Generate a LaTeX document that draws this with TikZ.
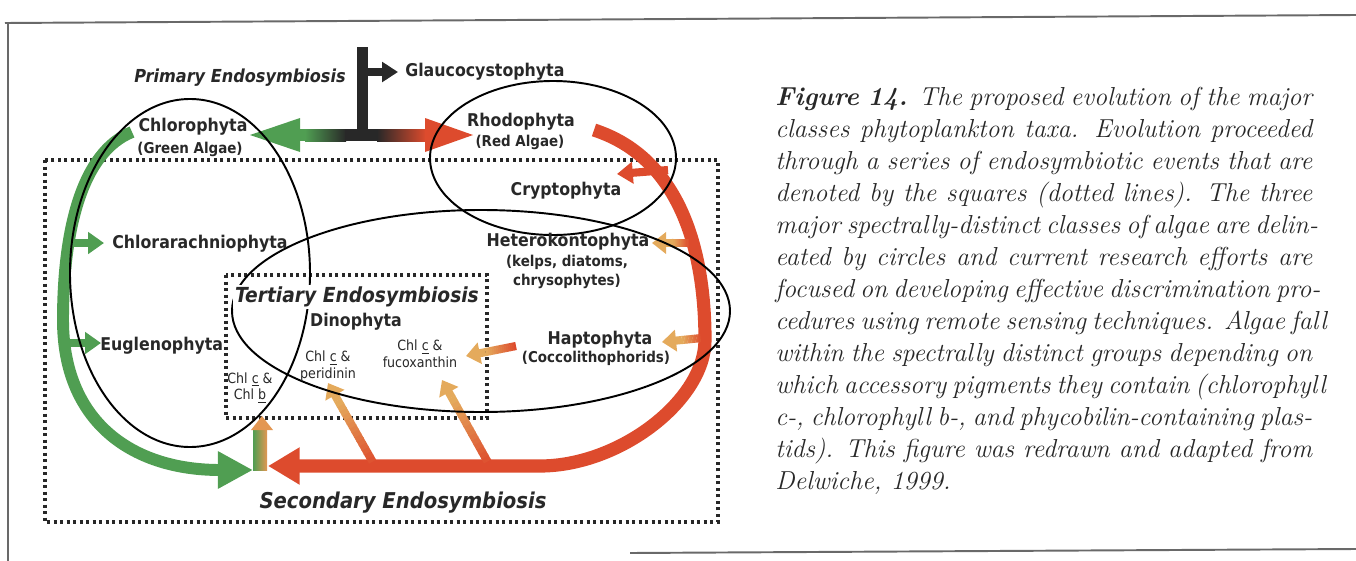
\documentclass[tikz,border=0pt]{standalone}
\usepackage{fontspec}
\newfontfamily\algfont{DejaVu Sans Condensed}
\definecolor{algagreen}{RGB}{80,158,82}
\definecolor{algared}{RGB}{221,75,45}
\definecolor{tanorange}{RGB}{228,170,92}
\definecolor{darkblk}{RGB}{40,40,40}
\definecolor{inkgray}{RGB}{40,40,40}
\definecolor{framegray}{RGB}{105,105,105}
\usetikzlibrary{arrows.meta,positioning,calc}

% shaft that fades from #3 to #4, head in #4
\newcommand{\gradarrow}[4]{%
  \coordinate (gh) at ($(#2)!0.4cm!(#1)$);%
  \foreach \k in {0,...,14}{%
    \pgfmathsetmacro{\ta}{\k*0.066}%
    \pgfmathsetmacro{\tb}{\k*0.066+0.08}%
    \pgfmathtruncatemacro{\mix}{100-\k*100/14}%
    \draw[branch, draw=#3!\mix!#4] ($(#1)!\ta!(gh)$) -- ($(#1)!\tb!(gh)$);%
  }%
  \draw[branch, draw=#4, -{Triangle[length=8pt,width=12pt]}] (gh) -- (#2);%
}

\begin{document}
\begin{tikzpicture}[x=0.02cm,y=-0.02cm,
  taxon/.style={font=\algfont\bfseries\fontsize{10}{12}\selectfont, text=inkgray, inner sep=0pt},
  subtaxon/.style={font=\algfont\bfseries\fontsize{8.5}{11}\selectfont, text=inkgray, inner sep=0pt, align=center},
  pigment/.style={font=\algfont\fontsize{8}{9.5}\selectfont, text=inkgray, inner sep=0pt, align=center},
  event/.style={font=\algfont\bfseries\itshape\fontsize{10.2}{12}\selectfont, text=inkgray, inner sep=0pt},
  dotbox/.style={draw=inkgray, line width=1.8pt, dash pattern=on 1.8pt off 1.9pt},
  circ/.style={draw=black, line width=1.1pt},
  branch/.style={line width=4.6pt},
  capline/.style={font=\itshape\fontsize{14.8}{18}\selectfont, text=inkgray, anchor=base west, inner sep=0pt}]
  \useasboundingbox (0,0) rectangle (1356,561);

  % Frame
  \draw[framegray, line width=1.1pt] (5,23) -- (1356,15);
  \draw[framegray, line width=1.1pt] (8,23) -- (8,561);
  \draw[framegray, line width=1.1pt] (630,553) -- (1356,549);

  % Endosymbiosis boxes
  \draw[dotbox] (45,160) rectangle (718,522);
  \draw[dotbox] (226,275) rectangle (487,418);

  % Primary endosymbiosis
  \fill[darkblk] (357,47) rectangle (368,135);
  \draw[darkblk, line width=4.5pt, -{Triangle[length=9pt,width=11pt]}] (362,72) -- (398,72);
  \fill[algagreen] (250,135) -- (300,118) -- (300,152) -- cycle;
  \fill[algagreen] (299,129) rectangle (306,141);
  \shade[left color=algagreen, right color=darkblk] (305,129) rectangle (346,141);
  \fill[darkblk] (345,129) rectangle (378,141);
  \shade[left color=darkblk, right color=algared] (377,129) rectangle (426,141);
  \fill[algared] (425,118) -- (473,135) -- (425,152) -- cycle;

  % Green line
  \draw[algagreen, line width=6.8pt, -{Triangle[length=20pt,width=20pt]}]
    (132,132) .. controls (82,152) and (63,230) .. (63,320)
    .. controls (63,420) and (130,470) .. (253,470);
  \draw[algagreen, branch, -{Triangle[length=9pt,width=12pt]}] (64,243) -- (104,243);
  \draw[algagreen, branch, -{Triangle[length=9pt,width=12pt]}] (64,343) -- (101,343);

  % Red line
  \draw[algared, line width=7.5pt, -{Triangle[length=18pt,width=20pt]}]
    (594,130) .. controls (680,158) and (705,250) .. (705,340)
    .. controls (705,400) and (620,466) .. (540,466) -- (268,466);
  \draw[algared, branch, -{Triangle[length=9pt,width=12pt]}] (668,170) -- (617,174);

  % Secondary and tertiary branches
  \coordinate (hetA) at (690,243);  \coordinate (hetB) at (652,243);
  \coordinate (hapA) at (702,338);  \coordinate (hapB) at (662,342);
  \coordinate (fucA) at (516,346);  \coordinate (fucB) at (466,356);
  \coordinate (perA) at (375,466);  \coordinate (perB) at (328,383);
  \coordinate (fcbA) at (490,466);  \coordinate (fcbB) at (442,380);
  \gradarrow{hetA}{hetB}{algared}{tanorange}
  \gradarrow{hapA}{hapB}{algared}{tanorange}
  \gradarrow{fucA}{fucB}{algared}{tanorange}
  \gradarrow{perA}{perB}{algared}{tanorange}
  \gradarrow{fcbA}{fcbB}{algared}{tanorange}
  \shade[left color=algagreen, right color=tanorange!80!algared] (253,470) rectangle (267,428);
  \fill[tanorange!80!algared] (251,430) -- (262,416) -- (273,430) -- cycle;

  % Spectral groups
  \draw[circ] (190,273) ellipse [x radius=120, y radius=174];
  \draw[circ] (553,158) ellipse [x radius=123, y radius=77];
  \draw[circ] (481,311) ellipse [x radius=249, y radius=101];

  % Labels
  \node[event] (prim) at (240,78) {Primary Endosymbiosis};
  \node[taxon, anchor=west] (glauco) at (405,72) {Glaucocystophyta};
  \node[taxon] (chloro) at (193,127) {Chlorophyta};
  \node[subtaxon] (greenalg) at (190,149) {(Green Algae)};
  \node[taxon] (rhodo) at (521,122) {Rhodophyta};
  \node[subtaxon] (redalg) at (520,142) {(Red Algae)};
  \node[taxon] (crypto) at (566,191) {Cryptophyta};
  \node[taxon, anchor=west] (chlorar) at (112,244) {Chlorarachniophyta};
  \node[taxon] (hetero) at (568,242) {Heterokontophyta};
  \node[subtaxon] (kelps) at (567,272) {(kelps, diatoms,\\chrysophytes)};
  \node[fill=white, inner sep=1pt, font=\algfont\bfseries\itshape\fontsize{11.8}{14}\selectfont, text=inkgray] (tert) at (357,297) {Tertiary Endosymbiosis};
  \node[taxon] (dino) at (356,322) {Dinophyta};
  \node[taxon, anchor=west] (eugl) at (100,346) {Euglenophyta};
  \node[pigment] (chlb) at (250,388) {Chl \underline{c} \&\\Chl \underline{b}};
  \node[pigment] (peri) at (328,366) {Chl \underline{c} \&\\peridinin};
  \node[pigment] (fuco) at (420,354) {Chl \underline{c} \&\\fucoxanthin};
  \node[taxon] (hapto) at (600,340) {Haptophyta};
  \node[subtaxon] (cocco) at (596,358) {(Coccolithophorids)};
  \node[event, font=\algfont\bfseries\itshape\fontsize{12.4}{15}\selectfont] (second) at (403,503) {Secondary Endosymbiosis};

  % Caption
  \node[capline] (cap1) at (775,105) {\makebox[10.74cm][s]{\textbf{Figure 14.} The proposed evolution of the major}};
  \node[capline] (cap2) at (775,137) {\makebox[10.74cm][s]{classes phytoplankton taxa. Evolution proceeded}};
  \node[capline] (cap3) at (775,169) {\makebox[10.74cm][s]{through a series of endosymbiotic events that are}};
  \node[capline] (cap4) at (775,201) {\makebox[10.74cm][s]{denoted by the squares (dotted lines). The three}};
  \node[capline] (cap5) at (775,233) {\makebox[10.74cm][s]{major spectrally-distinct classes of algae are delin-}};
  \node[capline] (cap6) at (775,265) {\makebox[10.74cm][s]{eated by circles and current research efforts are}};
  \node[capline] (cap7) at (775,297) {\makebox[10.74cm][s]{focused on developing effective discrimination pro-}};
  \node[capline] (cap8) at (775,329) {\makebox[10.74cm][s]{cedures using remote sensing techniques. Algae fall}};
  \node[capline] (cap9) at (775,361) {\makebox[10.74cm][s]{within the spectrally distinct groups depending on}};
  \node[capline] (cap10) at (775,393) {\makebox[10.74cm][s]{which accessory pigments they contain (chlorophyll}};
  \node[capline] (cap11) at (775,425) {\makebox[10.74cm][s]{c-, chlorophyll b-, and phycobilin-containing plas-}};
  \node[capline] (cap12) at (775,457) {\makebox[10.74cm][s]{tids). This figure was redrawn and adapted from}};
  \node[capline] (cap13) at (775,489) {Delwiche, 1999.};
\end{tikzpicture}
\end{document}
